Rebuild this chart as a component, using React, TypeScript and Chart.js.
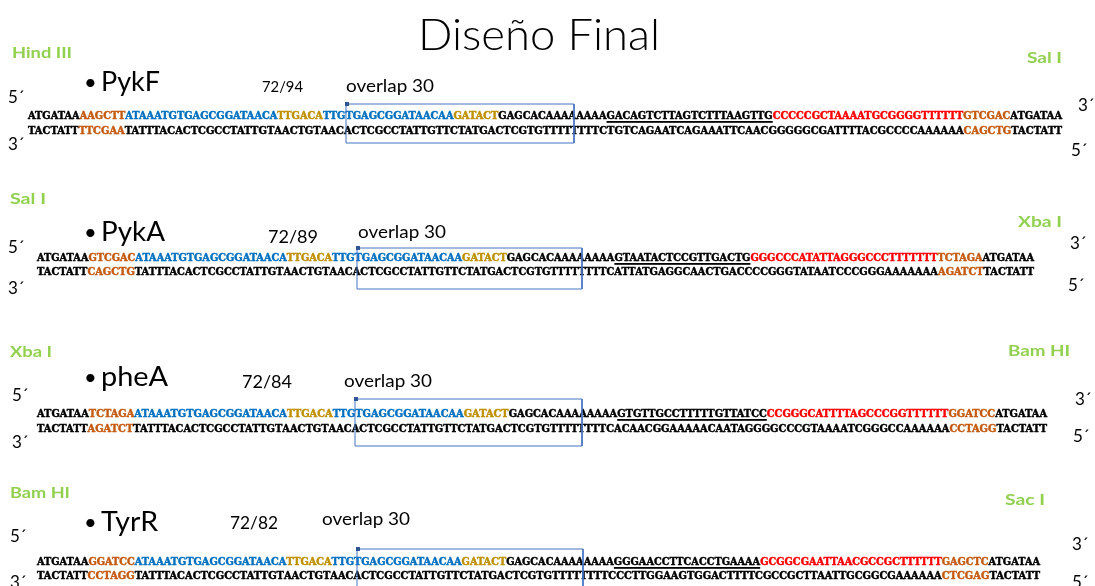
import React, { useEffect, useRef } from "react";
import { Chart, registerables } from "chart.js";
Chart.register(...registerables);

const W = 1095;
const H = 586;

// ---- data ----
const title = "Diseño Final";
const geneNames = ["PykF", "PykA", "pheA", "TyrR"];
const ratios = ["72/94", "72/89", "72/84", "72/82"];
const overlapLabel = "overlap 30";
const leftSites = ["Hind III", "Sal I", "Xba I", "Bam HI"];
const rightSites = ["Sal I", "Xba I", "Bam HI", "Sac I"];
const flank = "ATGATAA";
const site5 = ["AAGCTT", "GTCGAC", "TCTAGA", "GGATCC"];
const promoterA = "ATAAATGTGAGCGGATAACA";
const box35 = "TTGACA";
const promoterB = "TTG";
const operator = "TGAGCGGATAACAA";
const box10 = "GATACT";
const spacer = "GAGCACAAAAAAAA";
const primers = [
  "GACAGTCTTAGTCTTTAAGTTG",
  "GTAATACTCCGTTGACTG",
  "GTGTTGCCTTTTTGTTATCC",
  "GGGAACCTTCACCTGAAAA",
];
const terminators = [
  "CCCCCGCTAAAATGCGGGGTTTTTT",
  "GGGCCCATATTAGGGCCCTTTTTTT",
  "CCGGGCATTTTAGCCCGGTTTTTT",
  "GCGGCGAATTAACGCCGCTTTTTT",
];
const site3 = ["GTCGAC", "TCTAGA", "GGATCC", "GAGCTC"];

// ---- styles ----
const C_ORANGE = "#C55A11";
const C_BLUE = "#0070C0";
const C_GOLD = "#BF9000";
const C_RED = "#FF0000";
const C_BLACK = "#000000";
const C_GREEN = "#92D050";
const C_BOX = "#4472C4";

// ---- layout (pixel positions of the slide) ----
const layout = [
  {
    seqX: 28, seqW: 1034, topY: 119, botY: 134,
    box: [346, 104, 574, 143],
    lSite: [12, 58, 60], rSite: [1027, 63, 35],
    l5: [8, 103], l3: [8, 150], r3: [1078, 111], r5: [1071, 156],
    name: [101, 91, 59], ratio: [262, 92, 41, 16], ov: [346, 92, 88],
  },
  {
    seqX: 37, seqW: 997, topY: 261, botY: 275,
    box: [357, 248, 582, 289],
    lSite: [10, 204, 36], rSite: [1018, 227, 44],
    l5: [8, 253], l3: [8, 294], r3: [1070, 249], r5: [1068, 291],
    name: [101, 241, 64], ratio: [268, 243, 50, 18], ov: [358, 238, 88],
  },
  {
    seqX: 37, seqW: 1010, topY: 417, botY: 432,
    box: [355, 399, 582, 446],
    lSite: [10, 357, 42], rSite: [1008, 356, 62],
    l5: [12, 401], l3: [12, 448], r3: [1075, 405], r5: [1073, 442],
    name: [101, 386, 67], ratio: [242, 388, 50, 18], ov: [344, 387, 88],
  },
  {
    seqX: 37, seqW: 1003, topY: 565, botY: 579,
    box: [357, 549, 583, 600],
    lSite: [10, 498, 60], rSite: [1005, 505, 40],
    l5: [10, 542], l3: [10, 588], r3: [1072, 550], r5: [1072, 588],
    name: [101, 531, 57], ratio: [230, 529, 48, 18], ov: [322, 525, 88],
  },
];

type Seg = { t: string; c: string; u?: boolean };

const comp: Record<string, string> = { A: "T", T: "A", G: "C", C: "G" };
const complement = (s: string) => s.split("").map((ch) => comp[ch] || ch).join("");

function topSegs(i: number): Seg[] {
  return [
    { t: flank, c: C_BLACK },
    { t: site5[i], c: C_ORANGE },
    { t: promoterA, c: C_BLUE },
    { t: box35, c: C_GOLD },
    { t: promoterB, c: C_BLUE },
    { t: operator, c: C_BLUE },
    { t: box10, c: C_GOLD },
    { t: spacer, c: C_BLACK },
    { t: primers[i], c: C_BLACK, u: true },
    { t: terminators[i], c: C_RED },
    { t: site3[i], c: C_ORANGE },
    { t: flank, c: C_BLACK },
  ];
}

function botSegs(i: number): Seg[] {
  return topSegs(i).map((s) => ({
    t: complement(s.t),
    c: s.c === C_ORANGE ? C_ORANGE : C_BLACK,
  }));
}

const SEQ_FONT = "bold 11px 'DejaVu Serif'";
const SANS = "Lato, 'Open Sans', sans-serif";

export default function App() {
  const ref = useRef<HTMLCanvasElement>(null);

  useEffect(() => {
    const canvas = ref.current;
    if (!canvas) return;

    const textPlugin = {
      id: "slideText",
      beforeDatasetsDraw(chart: any) {
        const ctx: CanvasRenderingContext2D = chart.ctx;
        const xs = chart.scales.x;
        const ys = chart.scales.y;
        const px = (v: number) => xs.getPixelForValue(v);
        const py = (v: number) => ys.getPixelForValue(v);

        const fit = (text: string, x: number, y: number, font: string, color: string, width?: number) => {
          ctx.save();
          ctx.font = font;
          ctx.fillStyle = color;
          ctx.textBaseline = "alphabetic";
          ctx.textAlign = "left";
          const m = ctx.measureText(text).width;
          const x0 = px(x);
          const s = width ? (px(x + width) - x0) / m : 1;
          ctx.translate(x0, py(y));
          ctx.scale(s, 1);
          ctx.fillText(text, 0, 0);
          ctx.restore();
        };

        const seqLine = (segs: Seg[], x: number, y: number, width: number) => {
          ctx.save();
          ctx.font = SEQ_FONT;
          ctx.textBaseline = "alphabetic";
          ctx.lineWidth = 0.5;
          ctx.lineJoin = "round";
          const total = segs.reduce((a, s) => a + ctx.measureText(s.t).width, 0);
          const x0 = px(x);
          const sc = (px(x + width) - x0) / total;
          ctx.translate(x0, py(y));
          ctx.scale(sc, 1);
          let cx = 0;
          for (const s of segs) {
            const w = ctx.measureText(s.t).width;
            ctx.fillStyle = s.c;
            ctx.strokeStyle = s.c;
            ctx.fillText(s.t, cx, 0);
            ctx.strokeText(s.t, cx, 0);
            if (s.u) {
              ctx.fillStyle = C_BLACK;
              ctx.fillRect(cx, 2, w, 1.8);
            }
            cx += w;
          }
          ctx.restore();
        };

        ctx.save();
        ctx.fillStyle = "#ffffff";
        ctx.fillRect(0, 0, chart.width, chart.height);
        ctx.restore();

        fit(title, 418, 50, `300 44px ${SANS}`, C_BLACK, 242);

        layout.forEach((L, i) => {
          fit(leftSites[i], L.lSite[0], L.lSite[1], `bold 15px ${SANS}`, C_GREEN, L.lSite[2]);
          fit(rightSites[i], L.rSite[0], L.rSite[1], `bold 15px ${SANS}`, C_GREEN, L.rSite[2]);
          fit("5´", L.l5[0], L.l5[1], `17px ${SANS}`, C_BLACK);
          fit("3´", L.l3[0], L.l3[1], `17px ${SANS}`, C_BLACK);
          fit("3´", L.r3[0], L.r3[1], `17px ${SANS}`, C_BLACK);
          fit("5´", L.r5[0], L.r5[1], `17px ${SANS}`, C_BLACK);
          fit("•", 84, L.name[1] - 1, `22px ${SANS}`, C_BLACK);
          fit(geneNames[i], L.name[0], L.name[1], `26px ${SANS}`, C_BLACK, L.name[2]);
          fit(ratios[i], L.ratio[0], L.ratio[1], `${L.ratio[3]}px ${SANS}`, C_BLACK, L.ratio[2]);
          fit(overlapLabel, L.ov[0], L.ov[1], `18px ${SANS}`, C_BLACK, L.ov[2]);
          seqLine(topSegs(i), L.seqX, L.topY, L.seqW);
          seqLine(botSegs(i), L.seqX, L.botY, L.seqW);
        });
      },
      afterDatasetsDraw(chart: any) {
        const ctx: CanvasRenderingContext2D = chart.ctx;
        const xs = chart.scales.x;
        const ys = chart.scales.y;
        ctx.save();
        ctx.fillStyle = "#2F5597";
        layout.forEach((L) => {
          const x = xs.getPixelForValue(L.box[0]);
          const y = ys.getPixelForValue(L.box[1]);
          ctx.fillRect(x - 1, y - 2, 4, 4);
        });
        ctx.restore();
      },
    };

    const datasets = layout.map((L) => {
      const [l, t, r, b] = L.box;
      return {
        type: "scatter" as const,
        data: [
          { x: l, y: t },
          { x: r, y: t },
          { x: r, y: b },
          { x: l, y: b },
          { x: l, y: t },
        ],
        showLine: true,
        borderColor: C_BOX,
        borderWidth: 1,
        pointRadius: 0,
        fill: false,
        tension: 0,
      };
    });

    const chart = new Chart(canvas, {
      type: "scatter",
      data: { datasets },
      options: {
        animation: false,
        responsive: false,
        devicePixelRatio: 1,
        layout: { padding: 0 },
        events: [],
        scales: {
          x: { type: "linear", min: 0, max: W, display: false },
          y: { type: "linear", min: 0, max: H, reverse: true, display: false },
        },
        plugins: {
          legend: { display: false },
          tooltip: { enabled: false },
        },
      },
      plugins: [textPlugin],
    });
    return () => chart.destroy();
  }, []);

  return (
    <div style={{ position: "fixed", left: 0, top: 0, width: W, height: H, background: "#fff" }}>
      <canvas ref={ref} width={W} height={H} style={{ width: W, height: H, display: "block" }} />
    </div>
  );
}
